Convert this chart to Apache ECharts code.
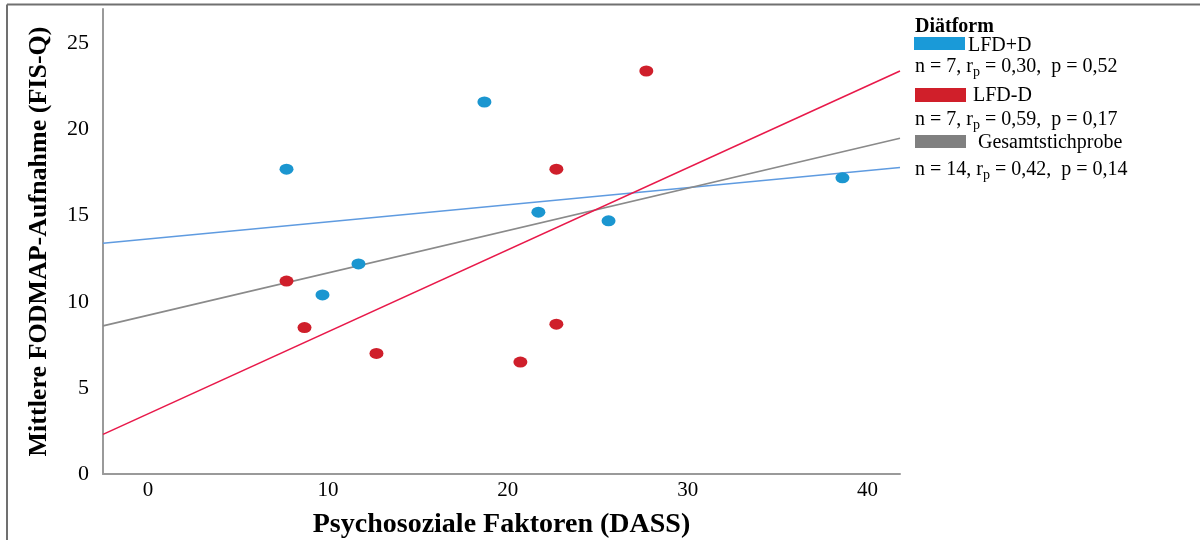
<!DOCTYPE html>
<html>
<head>
<meta charset="utf-8">
<script src="https://cdn.jsdelivr.net/npm/echarts@6/dist/echarts.min.js"></script>
<style>
  html, body { margin: 0; padding: 0; background: #fff; }
  #chart { width: 1200px; height: 540px; }
</style>
</head>
<body>
<div id="chart"></div>
<script>
// Psychosocial factors (DASS) vs. mean FODMAP intake (FIS-Q), by diet group
const dassLfdPlusD = [7.7, 18.7, 11.7, 9.7, 21.7, 25.6, 38.6];
const fisLfdPlusD  = [17.7, 21.6, 12.2, 10.4, 15.2, 14.7, 17.2];

const dassLfdMinusD = [7.7, 8.7, 12.7, 20.7, 22.7, 22.7, 27.7];
const fisLfdMinusD  = [11.2, 8.5, 7.0, 6.5, 8.7, 17.7, 23.4];

// Regression lines: values at the left and right ends of the x range
const fitX          = [-2.5, 41.8];
const fitLfdPlusD   = [13.4, 17.8];
const fitLfdMinusD  = [2.3, 23.4];
const fitTotal      = [8.6, 19.5];

// Legend content
const groupNames = ['LFD+D', 'LFD-D', 'Gesamtstichprobe'];
const groupN     = ['7', '7', '14'];
const groupR     = ['0,30', '0,59', '0,42'];
const groupP     = ['0,52', '0,17', '0,14'];

const xTitle = 'Psychosoziale Faktoren (DASS)';
const yTitle = 'Mittlere FODMAP-Aufnahme (FIS-Q)';
const legendTitle = 'Diätform';

const SERIF = '"Liberation Serif", "Times New Roman", serif';
const dotBlue = '#1b96d0';
const dotRed = '#cf1f2b';
const lineBlue = '#5f9be0';
const lineRed = '#e8194a';
const lineGray = '#8a8a8a';
const swatchColors = ['#1a9ad8', '#d01f2a', '#808080'];

const pairs = (xs, ys) => xs.map((x, i) => [x, ys[i]]);
const ellipse = 'path://M0,10 A10,10 0 1,0 20,10 A10,10 0 1,0 0,10 Z';

// Legend block drawn as graphic elements
const legendRows = [
  { swatchX: 914, swatchY: 37, swatchH: 13, nameX: 968, nameY: 46, statY: 67 },
  { swatchX: 915, swatchY: 88, swatchH: 14, nameX: 973, nameY: 96, statY: 120 },
  { swatchX: 915, swatchY: 135, swatchH: 13, nameX: 978, nameY: 143, statY: 170 }
];
const legendGraphics = [
  {
    type: 'text', x: 915, y: 27,
    style: { text: legendTitle, fontFamily: SERIF, fontSize: 20, fontWeight: 'bold', fill: '#000', verticalAlign: 'middle' }
  }
];
legendRows.forEach((row, i) => {
  legendGraphics.push({
    type: 'rect',
    shape: { x: row.swatchX, y: row.swatchY, width: 51, height: row.swatchH },
    style: { fill: swatchColors[i] }
  });
  legendGraphics.push({
    type: 'text', x: row.nameX, y: row.nameY,
    style: { text: groupNames[i], fontFamily: SERIF, fontSize: 20, fill: '#000', verticalAlign: 'middle' }
  });
  legendGraphics.push({
    type: 'text', x: 915, y: row.statY,
    style: {
      text: '{a|n = ' + groupN[i] + ', r}{s|p}{a| = ' + groupR[i] + ',  p = ' + groupP[i] + '}',
      verticalAlign: 'middle',
      rich: {
        a: { fontFamily: SERIF, fontSize: 20, lineHeight: 24, fill: '#000' },
        s: { fontFamily: SERIF, fontSize: 14, lineHeight: 14, fill: '#000', verticalAlign: 'bottom' }
      }
    }
  });
});

// Outer frame (top and left edges)
const frameGraphics = [
  { type: 'line', shape: { x1: 7, y1: 4.5, x2: 1200, y2: 4.5 }, style: { stroke: '#707070', lineWidth: 2 } },
  { type: 'line', shape: { x1: 7, y1: 4.5, x2: 7, y2: 540 }, style: { stroke: '#707070', lineWidth: 2 } }
];

const chart = echarts.init(document.getElementById('chart'), null, { renderer: 'canvas' });
chart.setOption({
  backgroundColor: '#ffffff',
  animation: false,
  grid: { left: 103, right: 300, top: 9, bottom: 66, containLabel: false, outerBoundsMode: 'none' },
  xAxis: {
    type: 'value',
    min: fitX[0],
    max: fitX[1],
    name: xTitle,
    nameLocation: 'middle',
    nameGap: 37,
    nameTextStyle: { fontFamily: SERIF, fontSize: 28, fontWeight: 'bold', color: '#000', verticalAlign: 'top' },
    axisLine: { show: true, onZero: false, lineStyle: { color: '#9a9a9a', width: 2 } },
    axisTick: { show: false },
    splitLine: { show: false },
    axisLabel: {
      showMinLabel: false, showMaxLabel: false,
      margin: 6,
      fontFamily: SERIF, fontSize: 21, color: '#000'
    }
  },
  yAxis: {
    type: 'value',
    min: 0,
    max: 27,
    name: yTitle,
    nameLocation: 'middle',
    nameGap: 51,
    nameTextStyle: { fontFamily: SERIF, fontSize: 26, fontWeight: 'bold', color: '#000' },
    axisLine: { show: true, onZero: false, lineStyle: { color: '#9a9a9a', width: 2 } },
    axisTick: { show: false },
    splitLine: { show: false },
    axisLabel: {
      showMaxLabel: false,
      margin: 14,
      fontFamily: SERIF, fontSize: 22, color: '#000'
    }
  },
  graphic: frameGraphics.concat(legendGraphics),
  series: [
    {
      name: 'Fit LFD+D', type: 'line', data: pairs(fitX, fitLfdPlusD),
      showSymbol: false, silent: true, z: 2,
      lineStyle: { color: lineBlue, width: 1.6 }
    },
    {
      name: 'Fit Gesamtstichprobe', type: 'line', data: pairs(fitX, fitTotal),
      showSymbol: false, silent: true, z: 2,
      lineStyle: { color: lineGray, width: 1.6 }
    },
    {
      name: 'Fit LFD-D', type: 'line', data: pairs(fitX, fitLfdMinusD),
      showSymbol: false, silent: true, z: 2,
      lineStyle: { color: lineRed, width: 1.6 }
    },
    {
      name: 'LFD+D', type: 'scatter', data: pairs(dassLfdPlusD, fisLfdPlusD),
      symbol: ellipse, symbolSize: [14, 11], z: 3,
      itemStyle: { color: dotBlue, opacity: 1 }
    },
    {
      name: 'LFD-D', type: 'scatter', data: pairs(dassLfdMinusD, fisLfdMinusD),
      symbol: ellipse, symbolSize: [14, 11], z: 3,
      itemStyle: { color: dotRed, opacity: 1 }
    }
  ]
});
</script>
</body>
</html>
